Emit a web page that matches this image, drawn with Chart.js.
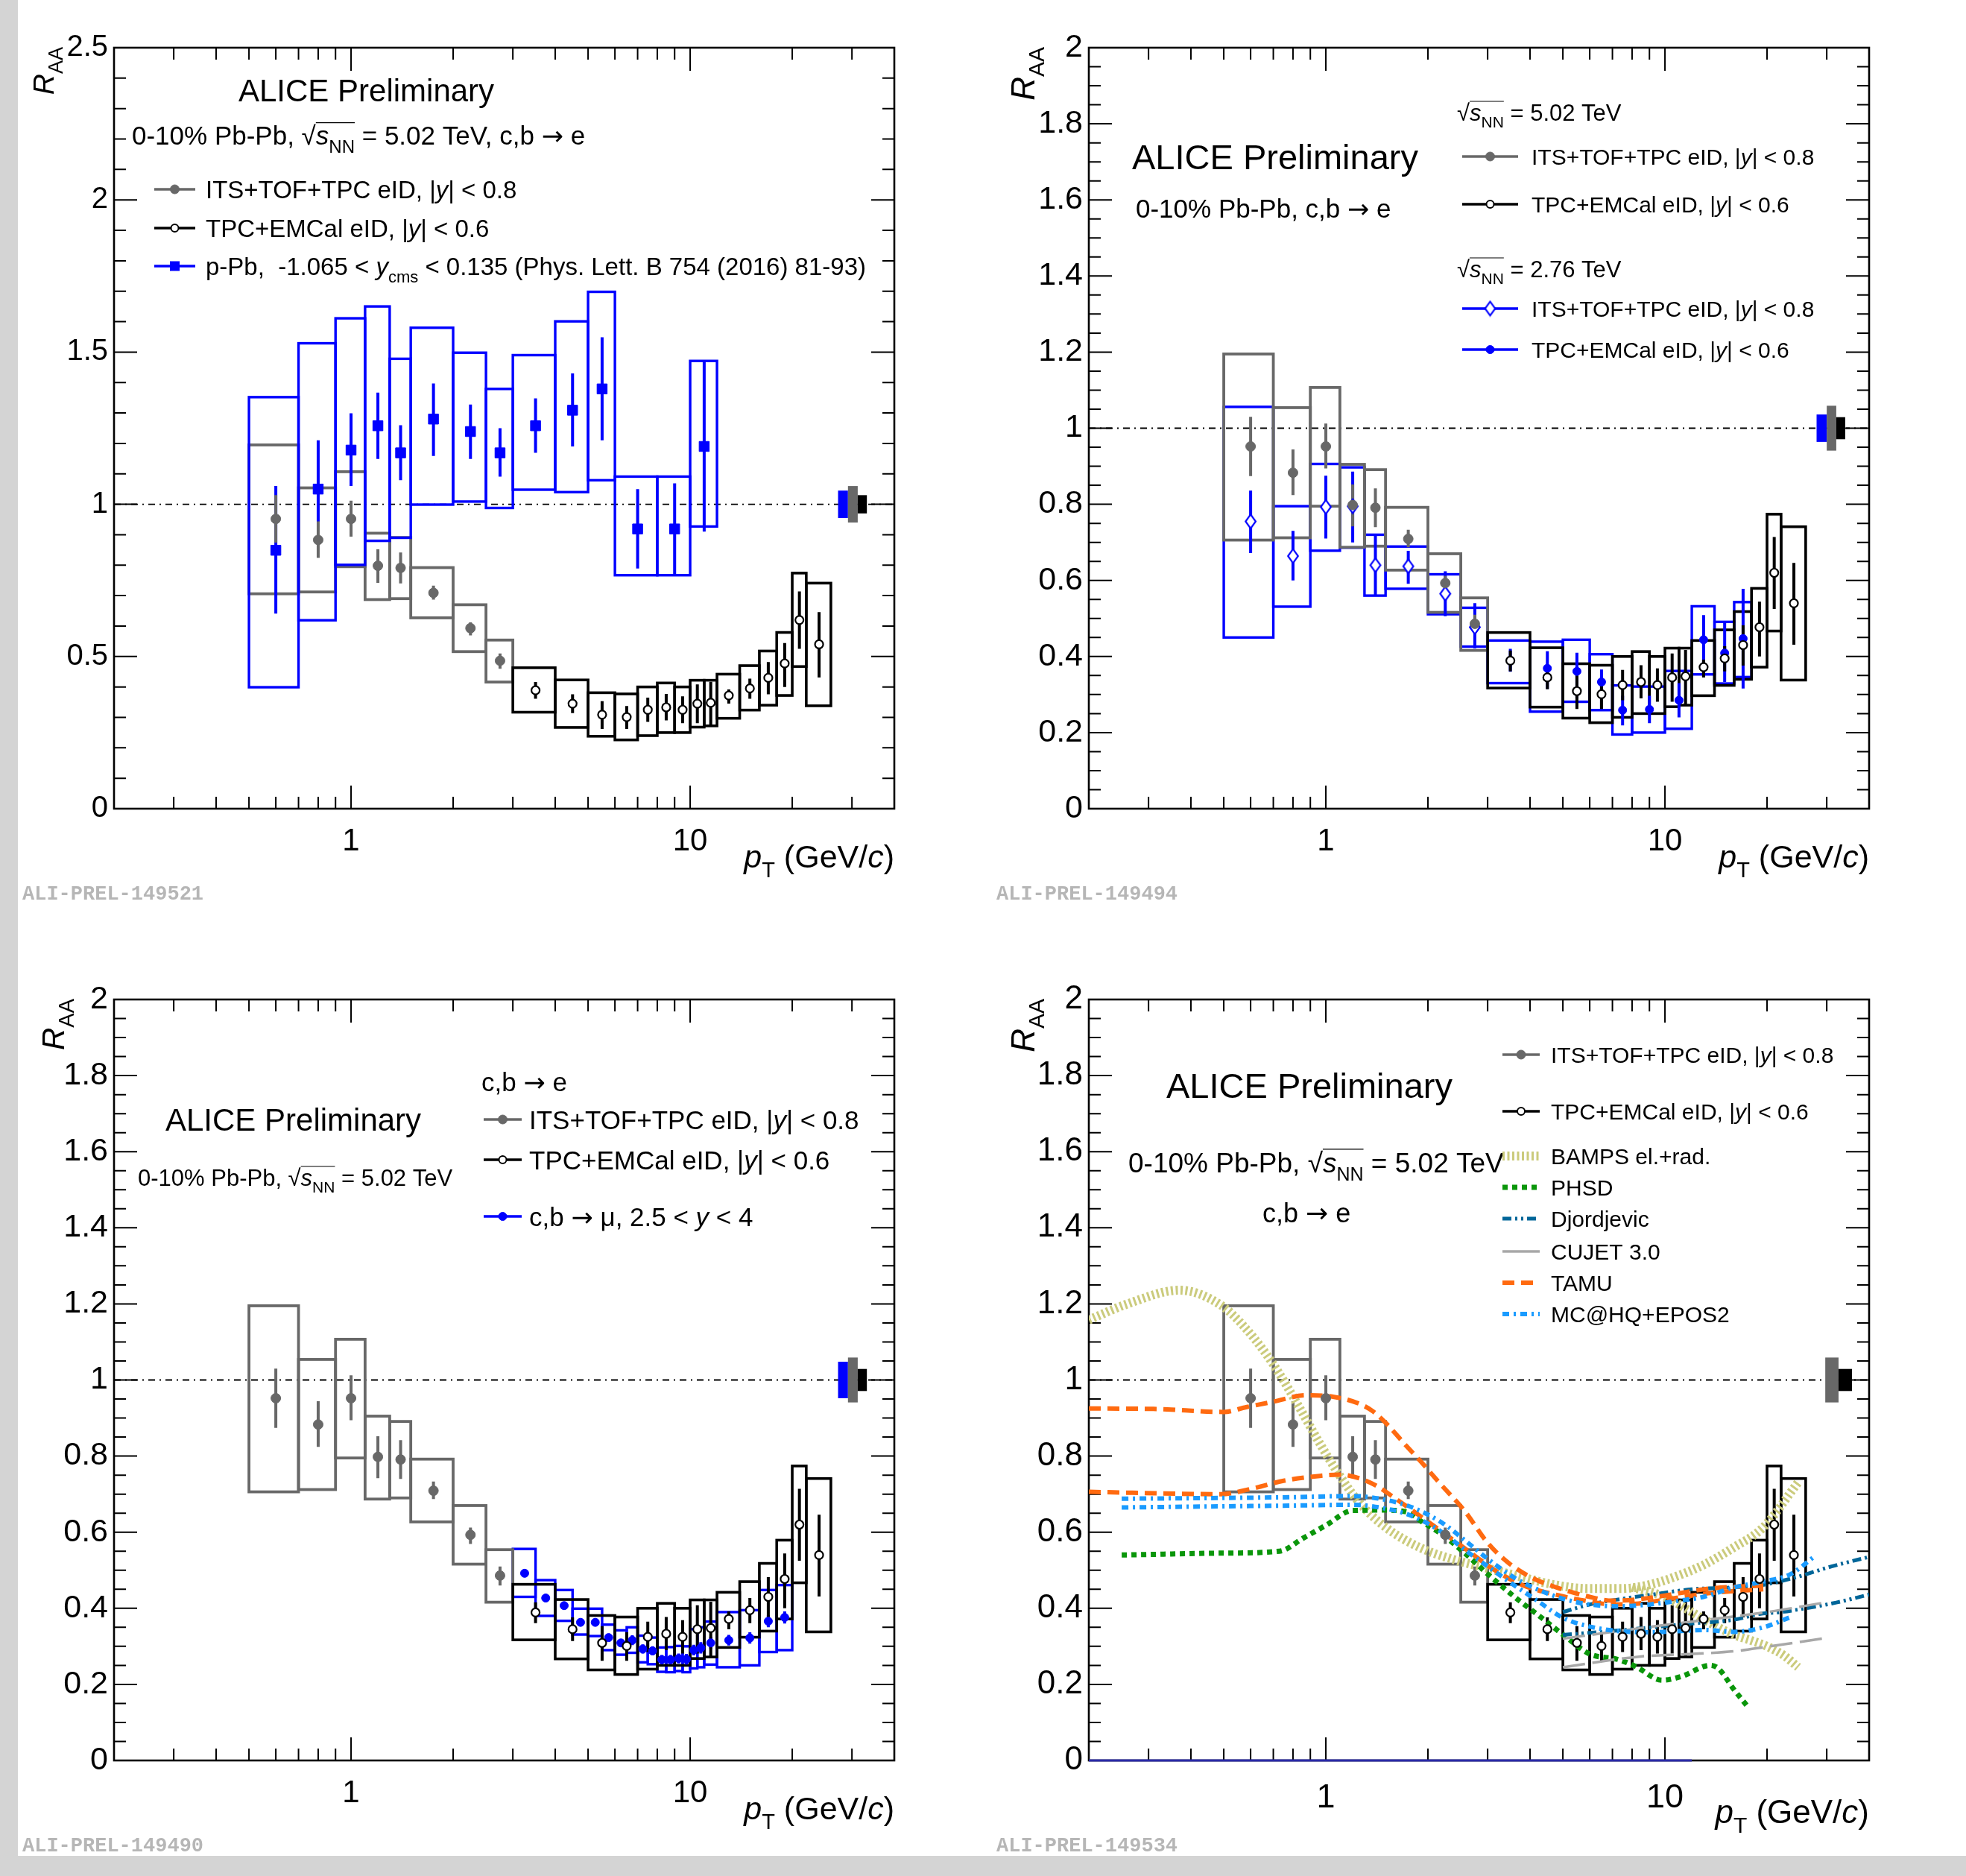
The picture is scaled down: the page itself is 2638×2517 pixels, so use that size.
<!DOCTYPE html>
<html>
<head>
<meta charset="utf-8">
<title>Heavy-flavour decay electron RAA, 0-10% Pb-Pb</title>
<script src="https://cdn.jsdelivr.net/npm/chart.js@4.4.1/dist/chart.umd.min.js"></script>
<style>
  html, body { margin: 0; padding: 0; background: #fff; }
  #page { position: relative; width: 2638px; height: 2517px; overflow: hidden; background: #fff; }
  #page canvas { position: absolute; }
  .strip { position: absolute; background: #d4d4d4; }
</style>
</head>
<body>
<div id="page">
  <div class="strip" style="left:0;top:0;width:24px;height:2517px"></div>
  <div class="strip" style="left:0;top:2490px;width:2638px;height:27px"></div>
  <canvas id="c1" width="1319" height="1258" style="left:0;top:0"></canvas>
  <canvas id="c2" width="1319" height="1258" style="left:1319px;top:0"></canvas>
  <canvas id="c3" width="1319" height="1258" style="left:0;top:1258px"></canvas>
  <canvas id="c4" width="1319" height="1258" style="left:1319px;top:1258px"></canvas>
</div>
<script>
// ---- axis ticks ----
const xMajorTicks = [1, 10];
const xMinorTicks = [0.3, 0.4, 0.5, 0.6, 0.7, 0.8, 0.9, 2, 3, 4, 5, 6, 7, 8, 9, 20, 30];

// ---- ITS+TOF+TPC eID, 5.02 TeV ----
const itsEdges  = [0.5, 0.7, 0.9, 1.1, 1.3, 1.5, 2.0, 2.5, 3.0];
const itsPt     = [0.6, 0.8, 1.0, 1.2, 1.4, 1.75, 2.25, 2.75];
const itsRaa    = [0.952, 0.883, 0.952, 0.798, 0.791, 0.709, 0.593, 0.486];
const itsStatLo = [0.874, 0.824, 0.894, 0.742, 0.740, 0.687, 0.569, 0.460];
const itsStatHi = [1.030, 0.944, 1.012, 0.852, 0.842, 0.733, 0.612, 0.510];
const itsSysLo  = [0.706, 0.712, 0.795, 0.687, 0.690, 0.627, 0.516, 0.416];
const itsSysHi  = [1.195, 1.054, 1.107, 0.905, 0.891, 0.792, 0.670, 0.554];

// ---- TPC+EMCal eID, 5.02 TeV ----
const emcEdges  = [3, 4, 5, 6, 7, 8, 9, 10, 11, 12, 14, 16, 18, 20, 22, 26];
const emcPt     = [3.5, 4.5, 5.5, 6.5, 7.5, 8.5, 9.5, 10.5, 11.5, 13, 15, 17, 19, 21, 24];
const emcRaa    = [0.389, 0.345, 0.309, 0.301, 0.325, 0.333, 0.325, 0.345, 0.348, 0.372, 0.395, 0.430, 0.477, 0.620, 0.540];
const emcStatLo = [0.361, 0.314, 0.262, 0.262, 0.285, 0.290, 0.281, 0.281, 0.274, 0.345, 0.361, 0.376, 0.400, 0.525, 0.431];
const emcStatHi = [0.416, 0.376, 0.353, 0.337, 0.365, 0.377, 0.369, 0.408, 0.417, 0.392, 0.427, 0.482, 0.544, 0.714, 0.646];
const emcSysLo  = [0.317, 0.267, 0.238, 0.226, 0.240, 0.250, 0.250, 0.268, 0.272, 0.297, 0.324, 0.340, 0.372, 0.467, 0.338];
const emcSysHi  = [0.463, 0.423, 0.381, 0.377, 0.400, 0.413, 0.400, 0.422, 0.422, 0.442, 0.470, 0.518, 0.579, 0.774, 0.741];

// ---- p-Pb, -1.065 < y_cms < 0.135 ----
const ppbEdges  = [0.5, 0.7, 0.9, 1.1, 1.3, 1.5, 2, 2.5, 3, 4, 5, 6, 8, 10, 12];
const ppbPt     = [0.6, 0.8, 1.0, 1.2, 1.4, 1.75, 2.25, 2.75, 3.5, 4.5, 5.5, 7, 9, 11];
const ppbRaa    = [0.849, 1.050, 1.178, 1.258, 1.169, 1.280, 1.239, 1.169, 1.258, 1.309, 1.379, 0.919, 0.919, 1.190];
const ppbStatLo = [0.641, 0.943, 1.060, 1.149, 1.079, 1.159, 1.149, 1.091, 1.169, 1.190, 1.210, 0.789, 0.769, 0.910];
const ppbStatHi = [1.060, 1.210, 1.299, 1.367, 1.260, 1.397, 1.328, 1.250, 1.348, 1.430, 1.549, 1.050, 1.069, 1.471];
const ppbSysLo  = [0.399, 0.619, 0.801, 0.880, 0.890, 0.999, 1.009, 0.988, 1.048, 1.040, 1.079, 0.767, 0.767, 0.927];
const ppbSysHi  = [1.352, 1.529, 1.611, 1.650, 1.478, 1.580, 1.498, 1.379, 1.490, 1.601, 1.698, 1.091, 1.091, 1.471];

// ---- 2.76 TeV, ITS+TOF+TPC eID ----
const its276Raa    = [0.755, 0.664, 0.793, 0.795, 0.640, 0.637, 0.565, 0.477];
const its276StatLo = [0.672, 0.600, 0.710, 0.700, 0.562, 0.591, 0.506, 0.421];
const its276StatHi = [0.836, 0.730, 0.875, 0.886, 0.718, 0.678, 0.624, 0.540];
const its276SysLo  = [0.450, 0.531, 0.678, 0.686, 0.560, 0.578, 0.511, 0.426];
const its276SysHi  = [1.056, 0.795, 0.906, 0.897, 0.720, 0.689, 0.616, 0.528];

// ---- 2.76 TeV, TPC+EMCal eID ----
const emc276Edges  = [3, 4, 5, 6, 7, 8, 10, 12, 14, 16, 18];
const emc276Pt     = [3.5, 4.5, 5.5, 6.5, 7.5, 9, 11, 13, 15, 17];
const emc276Raa    = [0.389, 0.369, 0.361, 0.333, 0.259, 0.261, 0.285, 0.444, 0.409, 0.447];
const emc276StatLo = [0.360, 0.315, 0.290, 0.260, 0.219, 0.225, 0.240, 0.346, 0.333, 0.316];
const emc276StatHi = [0.420, 0.414, 0.410, 0.366, 0.297, 0.297, 0.330, 0.509, 0.488, 0.578];
const emc276SysLo  = [0.330, 0.255, 0.281, 0.259, 0.195, 0.200, 0.210, 0.353, 0.329, 0.346];
const emc276SysHi  = [0.442, 0.439, 0.444, 0.406, 0.324, 0.321, 0.362, 0.532, 0.491, 0.543];

// ---- c,b -> mu, 2.5 < y < 4 ----
const muEdges  = [3, 3.5, 4, 4.5, 5, 5.5, 6, 6.5, 7, 7.5, 8, 8.5, 9, 9.5, 10, 10.5, 11, 12, 14, 16, 18, 20];
const muPt     = [3.25, 3.75, 4.25, 4.75, 5.25, 5.75, 6.25, 6.75, 7.25, 7.75, 8.25, 8.75, 9.25, 9.75, 10.25, 10.75, 11.5, 13, 15, 17, 19];
const muRaa    = [0.492, 0.427, 0.407, 0.363, 0.363, 0.323, 0.309, 0.316, 0.293, 0.288, 0.265, 0.265, 0.268, 0.266, 0.290, 0.296, 0.309, 0.316, 0.322, 0.366, 0.376];
const muStatLo = [0.482, 0.417, 0.397, 0.353, 0.353, 0.313, 0.299, 0.303, 0.281, 0.276, 0.253, 0.253, 0.255, 0.252, 0.276, 0.281, 0.293, 0.302, 0.307, 0.350, 0.360];
const muStatHi = [0.502, 0.437, 0.417, 0.373, 0.373, 0.333, 0.319, 0.329, 0.305, 0.300, 0.277, 0.277, 0.281, 0.280, 0.304, 0.311, 0.325, 0.330, 0.337, 0.382, 0.392];
const muSysLo  = [0.430, 0.380, 0.367, 0.331, 0.327, 0.290, 0.278, 0.283, 0.258, 0.253, 0.233, 0.232, 0.235, 0.232, 0.242, 0.245, 0.252, 0.245, 0.250, 0.285, 0.290];
const muSysHi  = [0.556, 0.474, 0.448, 0.399, 0.399, 0.357, 0.342, 0.350, 0.328, 0.323, 0.297, 0.298, 0.301, 0.300, 0.345, 0.350, 0.365, 0.390, 0.395, 0.448, 0.461];

// ---- model curves ----
const bampsPt  = [0.2, 0.26, 0.37, 0.49, 0.585, 0.7, 0.84, 0.96, 1.1, 1.26, 1.51, 1.9, 2.38, 3.0, 3.75, 4.7, 5.9, 7.5, 9.0, 10.5, 13.0, 15.9, 19.4, 24.9];
const bampsRaa = [1.158, 1.2, 1.236, 1.197, 1.132, 1.041, 0.924, 0.833, 0.748, 0.676, 0.611, 0.559, 0.528, 0.505, 0.483, 0.462, 0.452, 0.452, 0.462, 0.48, 0.514, 0.559, 0.611, 0.735];
const bampsLowPt  = [8, 10, 12, 14, 16, 18, 20, 22.5, 24.7];
const bampsLowRaa = [0.455, 0.43, 0.39, 0.355, 0.33, 0.315, 0.3, 0.275, 0.245];
const phsdPt  = [0.25, 0.5, 0.73, 0.86, 1.0, 1.2, 1.48, 1.75, 1.9, 2.17, 2.56, 3.0, 3.6, 4.3, 5.1, 6.0, 7.3, 8.2, 9.8, 11.2, 13.6, 14.4, 15.9, 17.7];
const phsdRaa = [0.54, 0.545, 0.55, 0.585, 0.618, 0.657, 0.658, 0.652, 0.63, 0.598, 0.546, 0.49, 0.43, 0.377, 0.325, 0.28, 0.265, 0.247, 0.211, 0.221, 0.25, 0.241, 0.189, 0.137];
const djUpPt  = [5, 6, 7.5, 9, 12, 16, 19, 24, 31, 40];
const djUpRaa = [0.39, 0.41, 0.425, 0.435, 0.45, 0.455, 0.46, 0.48, 0.51, 0.535];
const djLoPt  = [5, 8, 12, 16, 19, 22, 26, 32, 40];
const djLoRaa = [0.33, 0.345, 0.36, 0.37, 0.385, 0.39, 0.4, 0.415, 0.436];
const cujetUpPt  = [5, 8, 12, 20, 30];
const cujetUpRaa = [0.32, 0.345, 0.365, 0.39, 0.416];
const cujetLoPt  = [5, 8.4, 12, 16, 20, 30];
const cujetLoRaa = [0.245, 0.273, 0.28, 0.287, 0.299, 0.322];
const tamuUpPt  = [0.2, 0.31, 0.5, 0.585, 0.7, 0.876, 1.05, 1.26, 1.38, 1.51, 1.73, 1.9, 2.17, 2.56, 3.0, 3.45, 4.06, 4.78, 6.0, 7.0, 8.2, 10.4, 13.6, 19.5];
const tamuUpRaa = [0.925, 0.924, 0.916, 0.929, 0.943, 0.96, 0.956, 0.937, 0.917, 0.885, 0.826, 0.787, 0.728, 0.657, 0.572, 0.52, 0.48, 0.455, 0.43, 0.42, 0.423, 0.436, 0.452, 0.46];
const tamuLoPt  = [0.2, 0.49, 0.61, 0.75, 0.96, 1.1, 1.26, 1.41, 1.6, 1.8, 2.07, 2.38, 2.74, 3.15, 3.8, 4.8, 6.0, 7.0, 8.2, 10.4, 13.6, 19.5];
const tamuLoRaa = [0.706, 0.70, 0.715, 0.735, 0.748, 0.751, 0.741, 0.722, 0.689, 0.657, 0.618, 0.579, 0.539, 0.50, 0.461, 0.435, 0.418, 0.41, 0.412, 0.425, 0.44, 0.45];
const mcUpPt  = [0.25, 0.5, 0.8, 1.2, 1.5, 1.8, 2.2, 2.6, 3.0, 3.6, 4.2, 5.0, 6.0, 7.3, 9, 11, 13, 16, 19.5, 23.5, 27.5];
const mcUpRaa = [0.688, 0.69, 0.692, 0.695, 0.685, 0.665, 0.625, 0.575, 0.53, 0.48, 0.45, 0.425, 0.41, 0.405, 0.41, 0.42, 0.43, 0.455, 0.47, 0.49, 0.535];
const mcLoPt  = [0.25, 0.5, 0.8, 1.2, 1.5, 1.8, 2.2, 2.6, 3.0, 3.6, 4.2, 5.0, 6.0, 7.3, 9, 11, 13, 16, 19.5, 23.5];
const mcLoRaa = [0.665, 0.668, 0.67, 0.672, 0.662, 0.642, 0.6, 0.55, 0.51, 0.46, 0.42, 0.375, 0.352, 0.34, 0.337, 0.34, 0.343, 0.338, 0.35, 0.377];
const zeroPt  = [0.2, 12];
const zeroRaa = [0, 0];

// ---- global normalisation uncertainties ----
const norm1Edges = [27.3, 29.2, 31.2, 33.2], norm1Half = [0.045, 0.06, 0.03];
const norm2Edges = [28, 30, 32, 34],         norm2Half = [0.036, 0.059, 0.029];
const norm3Edges = [27.3, 29.2, 31.2, 33.2], norm3Half = [0.048, 0.059, 0.029];
const norm4Edges = [29.7, 32.5, 35.6],       norm4Half = [0.059, 0.029];

const FONT = '"Liberation Sans", Arial, Helvetica, sans-serif';
const SYMFONT = '"DejaVu Sans", sans-serif';
const GREY = '#686868', BLUE = '#0000ff', BLACK = '#000000';
const KHAKI = '#cbcb7c', GREEN = '#0a960a', TEAL = '#006699', LGREY = '#a8a8a8', ORANGE = '#ff6a10', SKY = '#1a9bff';

const pts = (xs, ys) => xs.map((v, i) => ({ x: v, y: ys[i] }));

// open diamond marker used for the 2.76 TeV ITS+TOF+TPC points
function diamondMarker(w, h, color, lw) {
  const c = document.createElement('canvas');
  c.width = w + 2 * lw; c.height = h + 2 * lw;
  const g = c.getContext('2d');
  g.fillStyle = '#fff'; g.strokeStyle = color; g.lineWidth = lw;
  g.beginPath();
  g.moveTo(c.width / 2, lw); g.lineTo(c.width - lw, c.height / 2);
  g.lineTo(c.width / 2, c.height - lw); g.lineTo(lw, c.height / 2);
  g.closePath(); g.fill(); g.stroke();
  return c;
}
const DIAMOND = diamondMarker(14, 19, BLUE, 2.2);

// text with italic / subscript / overline / symbol runs: parts are strings or [text, flags]
function rich(ctx, x, y, parts, size, align, color) {
  const seg = parts.map(p => typeof p === 'string' ? { t: p, f: '' } : { t: p[0], f: p[1] });
  const fontOf = s => (s.f.includes('i') ? 'italic ' : '') +
    Math.round(s.f.includes('s') ? size * 0.68 : size) + 'px ' + (s.f.includes('a') ? SYMFONT : FONT);
  let w = 0;
  seg.forEach(s => { ctx.font = fontOf(s); s.w = ctx.measureText(s.t).width; w += s.w; });
  let cx = align === 'right' ? x - w : x;
  ctx.fillStyle = color || '#000'; ctx.strokeStyle = color || '#000';
  ctx.textAlign = 'left'; ctx.textBaseline = 'alphabetic';
  let o0 = null, o1 = null;
  seg.forEach(s => {
    ctx.font = fontOf(s);
    ctx.fillText(s.t, cx, y + (s.f.includes('s') ? size * 0.3 : 0));
    if (s.f.includes('o')) { if (o0 === null) o0 = cx; o1 = cx + s.w; }
    cx += s.w;
  });
  if (o0 !== null) {
    ctx.beginPath(); ctx.lineWidth = Math.max(1, size / 28);
    ctx.moveTo(o0, y - size * 0.84); ctx.lineTo(o1, y - size * 0.84); ctx.stroke();
  }
}

function drawMarker(ctx, m, x, y) {
  ctx.save();
  ctx.setLineDash([]);
  if (m.style === 'diamond') {
    ctx.drawImage(DIAMOND, x - DIAMOND.width / 2, y - DIAMOND.height / 2);
  } else if (m.style === 'square') {
    ctx.fillStyle = m.color; ctx.fillRect(x - m.r, y - m.r, 2 * m.r, 2 * m.r);
  } else {
    ctx.beginPath(); ctx.arc(x, y, m.r, 0, 2 * Math.PI);
    ctx.fillStyle = m.open ? '#fff' : m.color; ctx.fill();
    ctx.lineWidth = m.open ? 2 : 1; ctx.strokeStyle = m.color; ctx.stroke();
  }
  ctx.restore();
}

const sqrtS = () => ['√', ['s', 'io'], ['NN', 'so']];
const ARROW = ['→', 'a'];

function rootPlugin(cfg) {
  const ox = cfg.off[0], oy = cfg.off[1];
  return {
    id: 'rootStyle',
    beforeDatasetsDraw(chart) {
      const { ctx, chartArea: a, scales: { x, y } } = chart;
      ctx.save();
      // ticks on all four sides, pointing inwards
      ctx.strokeStyle = '#000'; ctx.lineWidth = 2;
      ctx.beginPath();
      const vt = (v, len) => {
        const px = x.getPixelForValue(v);
        ctx.moveTo(px, a.bottom); ctx.lineTo(px, a.bottom - len);
        ctx.moveTo(px, a.top); ctx.lineTo(px, a.top + len);
      };
      xMinorTicks.forEach(v => vt(v, 16));
      xMajorTicks.forEach(v => vt(v, 31));
      const nMinor = Math.round(cfg.yMax / cfg.yMinor);
      const perMajor = Math.round(cfg.yMajor / cfg.yMinor);
      for (let i = 1; i < nMinor; i++) {
        const py = y.getPixelForValue(i * cfg.yMinor);
        const len = i % perMajor === 0 ? 31 : 16;
        ctx.moveTo(a.left, py); ctx.lineTo(a.left + len, py);
        ctx.moveTo(a.right, py); ctx.lineTo(a.right - len, py);
      }
      ctx.stroke();
      ctx.lineWidth = 2.6;
      ctx.strokeRect(a.left, a.top, a.right - a.left, a.bottom - a.top);

      ctx.beginPath(); ctx.rect(a.left, a.top, a.right - a.left, a.bottom - a.top); ctx.clip();
      // unity reference
      const y1 = y.getPixelForValue(1);
      ctx.lineWidth = 1.8; ctx.setLineDash([9, 6, 2, 6]);
      ctx.beginPath(); ctx.moveTo(a.left, y1); ctx.lineTo(a.right, y1); ctx.stroke();
      ctx.setLineDash([]);
      // global normalisation boxes
      cfg.norm.half.forEach((h, i) => {
        const xa = x.getPixelForValue(cfg.norm.edges[i]), xb = x.getPixelForValue(cfg.norm.edges[i + 1]);
        const ya = y.getPixelForValue(1 + h), yb = y.getPixelForValue(1 - h);
        ctx.fillStyle = cfg.norm.colors[i]; ctx.fillRect(xa, ya, xb - xa, yb - ya);
      });
      // systematic boxes
      cfg.boxes.forEach(b => {
        ctx.strokeStyle = b.color; ctx.lineWidth = b.lw;
        b.lo.forEach((lo, i) => {
          const xa = x.getPixelForValue(b.edges[i]), xb = x.getPixelForValue(b.edges[i + 1]);
          const ya = y.getPixelForValue(b.hi[i]), yb = y.getPixelForValue(lo);
          ctx.strokeRect(xa, ya, xb - xa, yb - ya);
        });
      });
      // statistical bars
      cfg.bars.forEach(b => {
        ctx.strokeStyle = b.color; ctx.lineWidth = b.lw;
        ctx.beginPath();
        b.x.forEach((v, i) => {
          const px = x.getPixelForValue(v);
          ctx.moveTo(px, y.getPixelForValue(b.lo[i])); ctx.lineTo(px, y.getPixelForValue(b.hi[i]));
        });
        ctx.stroke();
      });
      ctx.restore();
    },
    afterDraw(chart) {
      const { ctx, chartArea: a } = chart;
      ctx.save();
      // axis titles
      rich(ctx, a.right, cfg.ptBase - oy, [['p', 'i'], ['T', 's'], ' (GeV/', ['c', 'i'], ')'], cfg.titleSize, 'right');
      ctx.save();
      ctx.translate(cfg.raaBase - ox, a.top - 1);
      ctx.rotate(-Math.PI / 2);
      rich(ctx, 0, 0, [['R', 'i'], ['AA', 's']], cfg.raaSize, 'right');
      ctx.restore();
      // captions
      cfg.texts.forEach(t => rich(ctx, t.x - ox, t.y - oy, t.parts, t.size, t.align, t.color));
      // legend rows
      cfg.legend.forEach(r => {
        const yy = r.y - oy, xa = cfg.leg.x1 - ox, xb = cfg.leg.x2 - ox;
        ctx.save();
        ctx.strokeStyle = r.color; ctx.lineWidth = r.lw || 3.5; ctx.setLineDash(r.dash || []);
        ctx.lineCap = 'butt';
        ctx.beginPath(); ctx.moveTo(xa, yy); ctx.lineTo(xb, yy); ctx.stroke();
        ctx.restore();
        if (r.marker) drawMarker(ctx, r.marker, (xa + xb) / 2, yy);
        rich(ctx, cfg.leg.tx - ox, yy + cfg.leg.size * 0.36, r.parts, cfg.leg.size);
      });
      // plot id
      ctx.font = 'bold 27px "Liberation Mono", "Courier New", monospace';
      ctx.fillStyle = '#b6b6b6'; ctx.textAlign = 'left'; ctx.textBaseline = 'alphabetic';
      ctx.fillText(cfg.tag, cfg.tagPos[0] - ox, cfg.tagPos[1] - oy);
      ctx.restore();
    }
  };
}

function makePanel(id, cfg, datasets) {
  const canvas = document.getElementById(id);
  const W = canvas.width, H = canvas.height;
  const L = cfg.plot[0] - cfg.off[0], R = cfg.plot[1] - cfg.off[0];
  const T = cfg.plot[2] - cfg.off[1], B = cfg.plot[3] - cfg.off[1];
  const YW = 110, XH = 110;
  return new Chart(canvas, {
    type: 'scatter',
    data: { datasets },
    options: {
      responsive: false, animation: false, devicePixelRatio: 1,
      layout: { padding: { left: L - YW, right: W - R, top: T, bottom: H - B - XH } },
      plugins: { legend: { display: false }, tooltip: { enabled: false } },
      scales: {
        x: {
          type: 'logarithmic', min: 0.2, max: 40,
          grid: { display: false, drawTicks: false }, border: { display: false },
          afterBuildTicks: s => { s.ticks = xMajorTicks.map(v => ({ value: v })); },
          afterFit: s => { s.height = XH; },
          ticks: { autoSkip: false, maxRotation: 0, color: '#000', padding: cfg.xPad,
                   font: { size: cfg.xLabelSize, family: FONT }, callback: v => String(v) }
        },
        y: {
          min: 0, max: cfg.yMax,
          grid: { display: false, drawTicks: false }, border: { display: false },
          afterFit: s => { s.width = YW; },
          ticks: { stepSize: cfg.yMajor, color: '#000', padding: 8,
                   font: { size: cfg.yLabelSize, family: FONT }, callback: v => String(+v.toFixed(2)) }
        }
      }
    },
    plugins: [rootPlugin(cfg)]
  });
}

// dataset helpers
const markerSet = (xs, ys, style, r, color, open) => ({
  data: pts(xs, ys), showLine: false,
  pointStyle: style, pointRadius: r, pointHoverRadius: r,
  pointBackgroundColor: open ? '#fff' : color, pointBorderColor: color,
  pointBorderWidth: open ? 2.2 : 1
});
const curveSet = (xs, ys, color, width, dash) => ({
  data: pts(xs, ys), showLine: true, pointRadius: 0, pointHoverRadius: 0,
  borderColor: color, borderWidth: width, borderDash: dash, borderCapStyle: 'butt',
  cubicInterpolationMode: 'monotone', fill: false
});

const itsBox = { edges: itsEdges, lo: itsSysLo, hi: itsSysHi, color: GREY, lw: 3.8 };
const emcBox = { edges: emcEdges, lo: emcSysLo, hi: emcSysHi, color: BLACK, lw: 3.6 };
const itsBar = { x: itsPt, lo: itsStatLo, hi: itsStatHi, color: GREY, lw: 4 };
const emcBar = { x: emcPt, lo: emcStatLo, hi: emcStatHi, color: BLACK, lw: 4 };
const itsMarks = () => markerSet(itsPt, itsRaa, 'circle', 6.5, GREY, false);
const emcMarks = () => markerSet(emcPt, emcRaa, 'circle', 5.5, BLACK, true);

const legIts = { color: GREY, marker: { r: 6, color: GREY }, parts: ['ITS+TOF+TPC eID, |', ['y', 'i'], '| < 0.8'] };
const legEmc = { color: BLACK, marker: { r: 5, color: BLACK, open: true }, parts: ['TPC+EMCal eID, |', ['y', 'i'], '| < 0.6'] };

// ---- panel 1: Pb-Pb vs p-Pb ----
makePanel('c1', {
  off: [0, 0], plot: [153, 1200, 64, 1085],
  yMax: 2.5, yMajor: 0.5, yMinor: 0.1, yLabelSize: 40, xLabelSize: 42, xPad: 19,
  titleSize: 43, ptBase: 1164, raaBase: 72, raaSize: 39,
  tag: 'ALI-PREL-149521', tagPos: [30, 1207],
  norm: { edges: norm1Edges, half: norm1Half, colors: [BLUE, GREY, BLACK] },
  boxes: [itsBox, emcBox, { edges: ppbEdges, lo: ppbSysLo, hi: ppbSysHi, color: BLUE, lw: 3.4 }],
  bars: [{ x: ppbPt, lo: ppbStatLo, hi: ppbStatHi, color: BLUE, lw: 4 }, itsBar, emcBar],
  texts: [
    { x: 320, y: 136, size: 42, parts: ['ALICE Preliminary'] },
    { x: 177, y: 194, size: 35, parts: ['0-10% Pb-Pb, ', ...sqrtS(), ' = 5.02 TeV, c,b ', ARROW, ' e'] }
  ],
  leg: { x1: 207, x2: 262, tx: 276, size: 33 },
  legend: [
    Object.assign({ y: 254 }, legIts),
    Object.assign({ y: 306 }, legEmc),
    { y: 357, color: BLUE, marker: { style: 'square', r: 6.5, color: BLUE },
      parts: ['p-Pb,  -1.065 < ', ['y', 'i'], ['cms', 's'], ' < 0.135 (Phys. Lett. B 754 (2016) 81-93)'] }
  ]
}, [
  itsMarks(), emcMarks(),
  markerSet(ppbPt, ppbRaa, 'rect', 9.5, BLUE, false)
]);

// ---- panel 2: 5.02 TeV vs 2.76 TeV ----
makePanel('c2', {
  off: [1319, 0], plot: [1461, 2508, 64, 1085],
  yMax: 2, yMajor: 0.2, yMinor: 0.05, yLabelSize: 43, xLabelSize: 42, xPad: 19,
  titleSize: 43, ptBase: 1164, raaBase: 1388, raaSize: 44,
  tag: 'ALI-PREL-149494', tagPos: [1337, 1207],
  norm: { edges: norm2Edges, half: norm2Half, colors: [BLUE, GREY, BLACK] },
  boxes: [
    { edges: itsEdges, lo: its276SysLo, hi: its276SysHi, color: BLUE, lw: 3.4 },
    { edges: emc276Edges, lo: emc276SysLo, hi: emc276SysHi, color: BLUE, lw: 3.4 },
    itsBox, emcBox
  ],
  bars: [
    { x: itsPt, lo: its276StatLo, hi: its276StatHi, color: BLUE, lw: 4 },
    { x: emc276Pt, lo: emc276StatLo, hi: emc276StatHi, color: BLUE, lw: 4 },
    itsBar, emcBar
  ],
  texts: [
    { x: 1519, y: 227, size: 47, parts: ['ALICE Preliminary'] },
    { x: 1524, y: 292, size: 35, parts: ['0-10% Pb-Pb, c,b ', ARROW, ' e'] },
    { x: 1955, y: 162, size: 31, parts: [...sqrtS(), ' = 5.02 TeV'] },
    { x: 1955, y: 372, size: 31, parts: [...sqrtS(), ' = 2.76 TeV'] }
  ],
  leg: { x1: 1962, x2: 2037, tx: 2055, size: 30 },
  legend: [
    Object.assign({ y: 210 }, legIts),
    Object.assign({ y: 274 }, legEmc),
    { y: 414, color: BLUE, marker: { style: 'diamond' }, parts: ['ITS+TOF+TPC eID, |', ['y', 'i'], '| < 0.8'] },
    { y: 469, color: BLUE, marker: { r: 5.5, color: BLUE }, parts: ['TPC+EMCal eID, |', ['y', 'i'], '| < 0.6'] }
  ]
}, [
  itsMarks(), emcMarks(),
  markerSet(emc276Pt, emc276Raa, 'circle', 5.5, BLUE, false),
  markerSet(itsPt, its276Raa, DIAMOND, 9, BLUE, false)
]);

// ---- panel 3: electrons vs muons ----
makePanel('c3', {
  off: [0, 1258], plot: [153, 1200, 1341, 2362],
  yMax: 2, yMajor: 0.2, yMinor: 0.05, yLabelSize: 43, xLabelSize: 42, xPad: 19,
  titleSize: 43, ptBase: 2441, raaBase: 86, raaSize: 42,
  tag: 'ALI-PREL-149490', tagPos: [30, 2484],
  norm: { edges: norm3Edges, half: norm3Half, colors: [BLUE, GREY, BLACK] },
  boxes: [{ edges: muEdges, lo: muSysLo, hi: muSysHi, color: BLUE, lw: 3.4 }, itsBox, emcBox],
  bars: [{ x: muPt, lo: muStatLo, hi: muStatHi, color: BLUE, lw: 4 }, itsBar, emcBar],
  texts: [
    { x: 646, y: 1464, size: 35, parts: ['c,b ', ARROW, ' e'] },
    { x: 222, y: 1517, size: 42, parts: ['ALICE Preliminary'] },
    { x: 185, y: 1591, size: 31, parts: ['0-10% Pb-Pb, ', ...sqrtS(), ' = 5.02 TeV'] }
  ],
  leg: { x1: 649, x2: 700, tx: 710, size: 35 },
  legend: [
    Object.assign({ y: 1502 }, legIts),
    Object.assign({ y: 1556 }, legEmc),
    { y: 1632, color: BLUE, marker: { r: 5.5, color: BLUE }, parts: ['c,b ', ARROW, ' μ, 2.5 < ', ['y', 'i'], ' < 4'] }
  ]
}, [
  itsMarks(), emcMarks(),
  markerSet(muPt, muRaa, 'circle', 5.5, BLUE, false)
]);

// ---- panel 4: data vs transport models ----
makePanel('c4', {
  off: [1319, 1258], plot: [1461, 2508, 1341, 2362],
  yMax: 2, yMajor: 0.2, yMinor: 0.05, yLabelSize: 44, xLabelSize: 45, xPad: 24,
  titleSize: 44, ptBase: 2446, raaBase: 1388, raaSize: 44,
  tag: 'ALI-PREL-149534', tagPos: [1337, 2484],
  norm: { edges: norm4Edges, half: norm4Half, colors: [GREY, BLACK] },
  boxes: [itsBox, emcBox],
  bars: [itsBar, emcBar],
  texts: [
    { x: 1565, y: 1473, size: 47, parts: ['ALICE Preliminary'] },
    { x: 1514, y: 1573, size: 37, parts: ['0-10% Pb-Pb, ', ...sqrtS(), ' = 5.02 TeV'] },
    { x: 1694, y: 1640, size: 36, parts: ['c,b ', ARROW, ' e'] }
  ],
  leg: { x1: 2016, x2: 2066, tx: 2081, size: 30 },
  legend: [
    Object.assign({ y: 1415 }, legIts),
    Object.assign({ y: 1491 }, legEmc),
    { y: 1551, color: KHAKI, lw: 12, dash: [3, 3.5], parts: ['BAMPS el.+rad.'] },
    { y: 1593, color: GREEN, lw: 7, dash: [7, 6], parts: ['PHSD'] },
    { y: 1635, color: TEAL, lw: 5, dash: [12, 5, 3, 5, 3, 5], parts: ['Djordjevic'] },
    { y: 1679, color: LGREY, lw: 3.5, parts: ['CUJET 3.0'] },
    { y: 1721, color: ORANGE, lw: 6, dash: [16, 9], parts: ['TAMU'] },
    { y: 1763, color: SKY, lw: 6, dash: [9, 6, 3, 6], parts: ['MC@HQ+EPOS2'] }
  ]
}, [
  itsMarks(), emcMarks(),
  curveSet(mcUpPt, mcUpRaa, SKY, 6, [9, 6, 3, 6]),
  curveSet(mcLoPt, mcLoRaa, SKY, 6, [9, 6, 3, 6]),
  curveSet(tamuUpPt, tamuUpRaa, ORANGE, 6, [16, 9]),
  curveSet(tamuLoPt, tamuLoRaa, ORANGE, 6, [16, 9]),
  curveSet(cujetUpPt, cujetUpRaa, LGREY, 3.5, [30, 10]),
  curveSet(cujetLoPt, cujetLoRaa, LGREY, 3.5, [30, 10]),
  curveSet(djUpPt, djUpRaa, TEAL, 5, [12, 5, 3, 5, 3, 5]),
  curveSet(djLoPt, djLoRaa, TEAL, 5, [12, 5, 3, 5, 3, 5]),
  curveSet(phsdPt, phsdRaa, GREEN, 7, [7, 6]),
  curveSet(bampsLowPt, bampsLowRaa, KHAKI, 12, [3, 3.5]),
  curveSet(bampsPt, bampsRaa, KHAKI, 12, [3, 3.5]),
  Object.assign(curveSet(zeroPt, zeroRaa, '#2a2aa8', 3, []), { clip: 4 })
]);
</script>
</body>
</html>
